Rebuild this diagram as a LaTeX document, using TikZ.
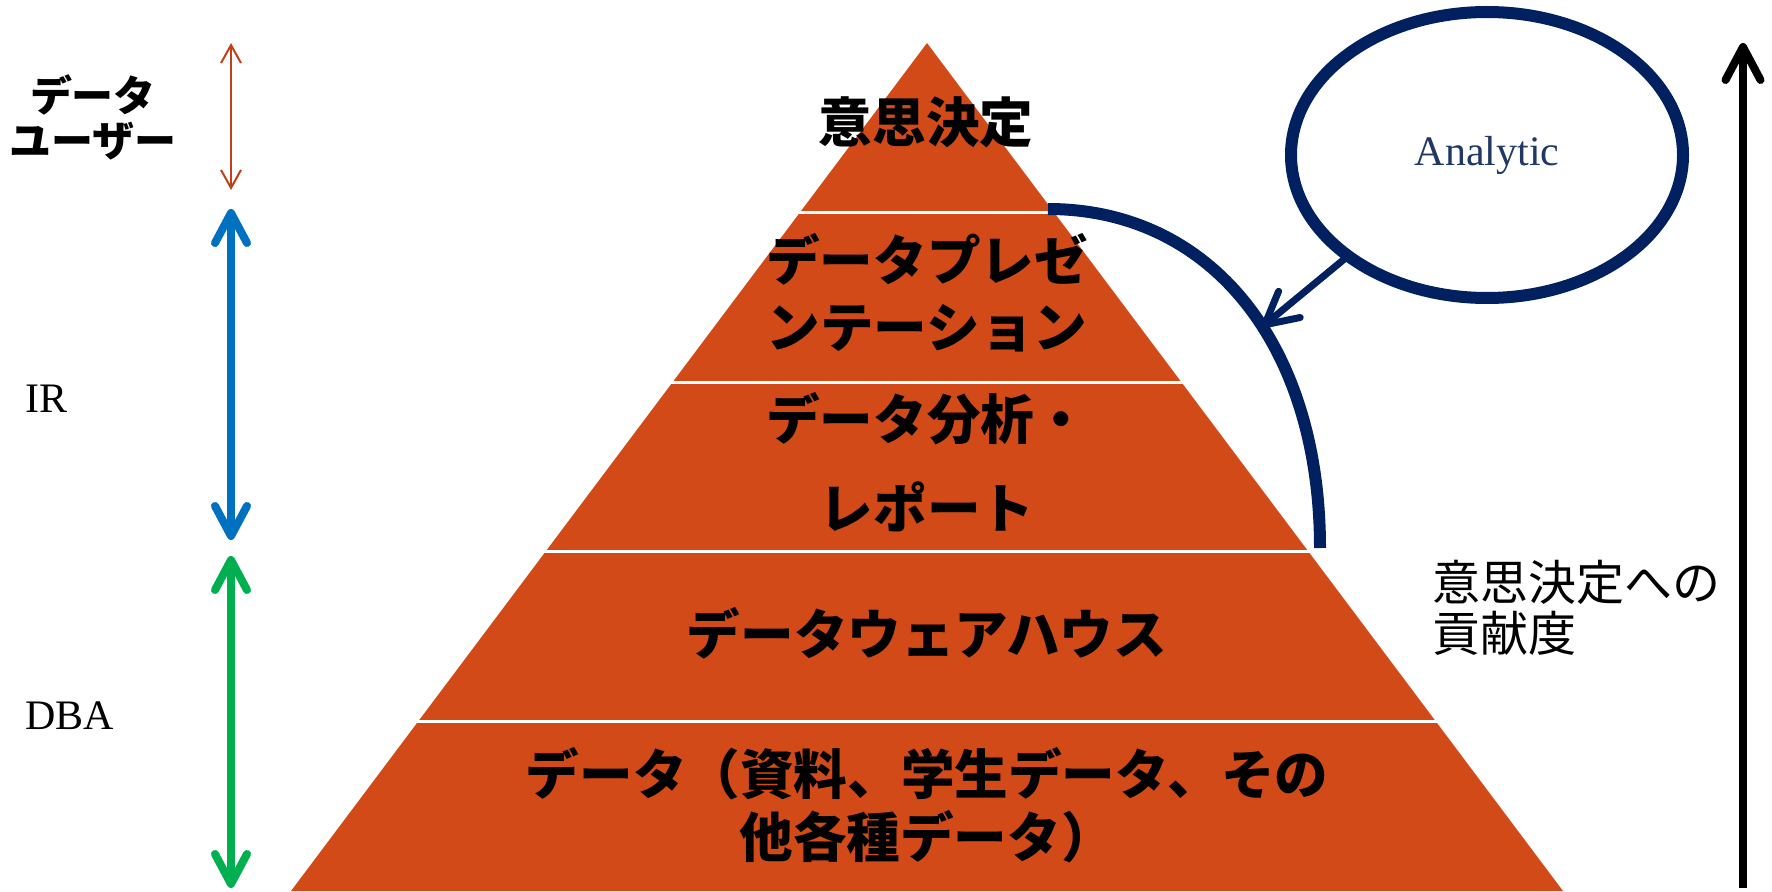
\documentclass[tikz,border=0pt]{standalone}
\usepackage{fontspec}
\setmainfont{Liberation Serif}
\newfontfamily\jp{Noto Sans CJK JP}
\usetikzlibrary{arrows.meta,shapes.geometric,calc}
\definecolor{pyr}{RGB}{210,74,24}
\definecolor{navy}{RGB}{0,32,96}
\definecolor{ablue}{RGB}{0,112,192}
\definecolor{agreen}{RGB}{0,176,80}
\definecolor{ared}{RGB}{192,64,26}
\definecolor{antext}{RGB}{31,56,100}
\begin{document}
\begin{tikzpicture}[x=0.5pt,y=0.5pt,
  layertext/.style={font=\jp\bfseries\fontsize{26.8}{33.5}\selectfont, align=center, inner sep=0},
  rolelabel/.style={font=\fontsize{21}{25}\selectfont, anchor=base west, inner sep=0},
  sep/.style={draw=white, line width=1.5pt, shorten <=-3pt, shorten >=-3pt},
  rolearrow/.style={line width=4pt, {Straight Barb[length=15pt,width=16pt,round]}-{Straight Barb[length=15pt,width=16pt,round]}},
]
\useasboundingbox (0,0) rectangle (1772,891);
% pyramid
\coordinate (apex) at (927,848);
\coordinate (bl) at (291,0);
\coordinate (br) at (1563,0);
\fill[pyr] (apex) -- (br) -- (bl) -- cycle;
\foreach \t in {0.2,0.4,0.6,0.8}
  \draw[sep] ($(apex)!\t!(bl)$) -- ($(apex)!\t!(br)$);
% layer texts
\node[layertext] (l1) at (926,769) {意思決定};
\node[layertext] (l2) at (927,598) {データプレゼ\\ンテーション};
\node[layertext, font=\jp\bfseries\fontsize{26.8}{44.5}\selectfont] (l3) at (927,429) {データ分析・\\レポート};
\node[layertext] (l4) at (927,258) {データウェアハウス};
\node[layertext, font=\jp\bfseries\fontsize{26.8}{31.5}\selectfont] (l5) at (927,86) {データ（資料、学生データ、その\\他各種データ）};
% left labels
\node[font=\jp\bfseries\fontsize{21}{22.5}\selectfont, align=center, inner sep=0] (users) at (93,774) {データ\\ユーザー};
\node[rolelabel] (ir) at (25,479) {IR};
\node[rolelabel] (dba) at (25,162) {DBA};
% left arrows
\coordinate (r1) at (231,848); \coordinate (r2) at (231,701);
\draw[ared, line width=1pt, {Straight Barb[length=9pt,width=10pt]}-{Straight Barb[length=9pt,width=10pt]}] (r1) -- (r2);
\coordinate (b1) at (231,682); \coordinate (b2) at (231,351);
\draw[rolearrow, ablue] (b1) -- (b2);
\coordinate (g1) at (231,335); \coordinate (g2) at (231,3);
\draw[rolearrow, agreen] (g1) -- (g2);
% right contribution arrow
\coordinate (k1) at (1743,3); \coordinate (k2) at (1743,848);
\draw[line width=4pt, -{Straight Barb[length=16.5pt,width=17.5pt,round]}] (k1) -- (k2);
\node[font=\jp\fontsize{24}{25.5}\selectfont, align=left, anchor=west, inner sep=0] (contrib) at (1432,283) {意思決定への\\貢献度};
% analytic ellipse
\node[ellipse, draw=navy, line width=6pt, minimum width=196pt, minimum height=143pt, inner sep=0, outer sep=0,
  text=antext, font=\fontsize{21}{24}\selectfont] (an) at (1487,736) {Analytic};
% arc
\coordinate (c1) at (1048,682);
\coordinate (c2) at (1320,343);
\draw[navy, line width=6pt] (c1) .. controls (1211,682) and (1320,546) .. (c2);
\coordinate (hit) at (1262,564);
\draw[navy, line width=3.5pt, -{Straight Barb[length=16pt,width=17pt,round]}] (an.216) -- (hit);
\end{tikzpicture}
\end{document}
